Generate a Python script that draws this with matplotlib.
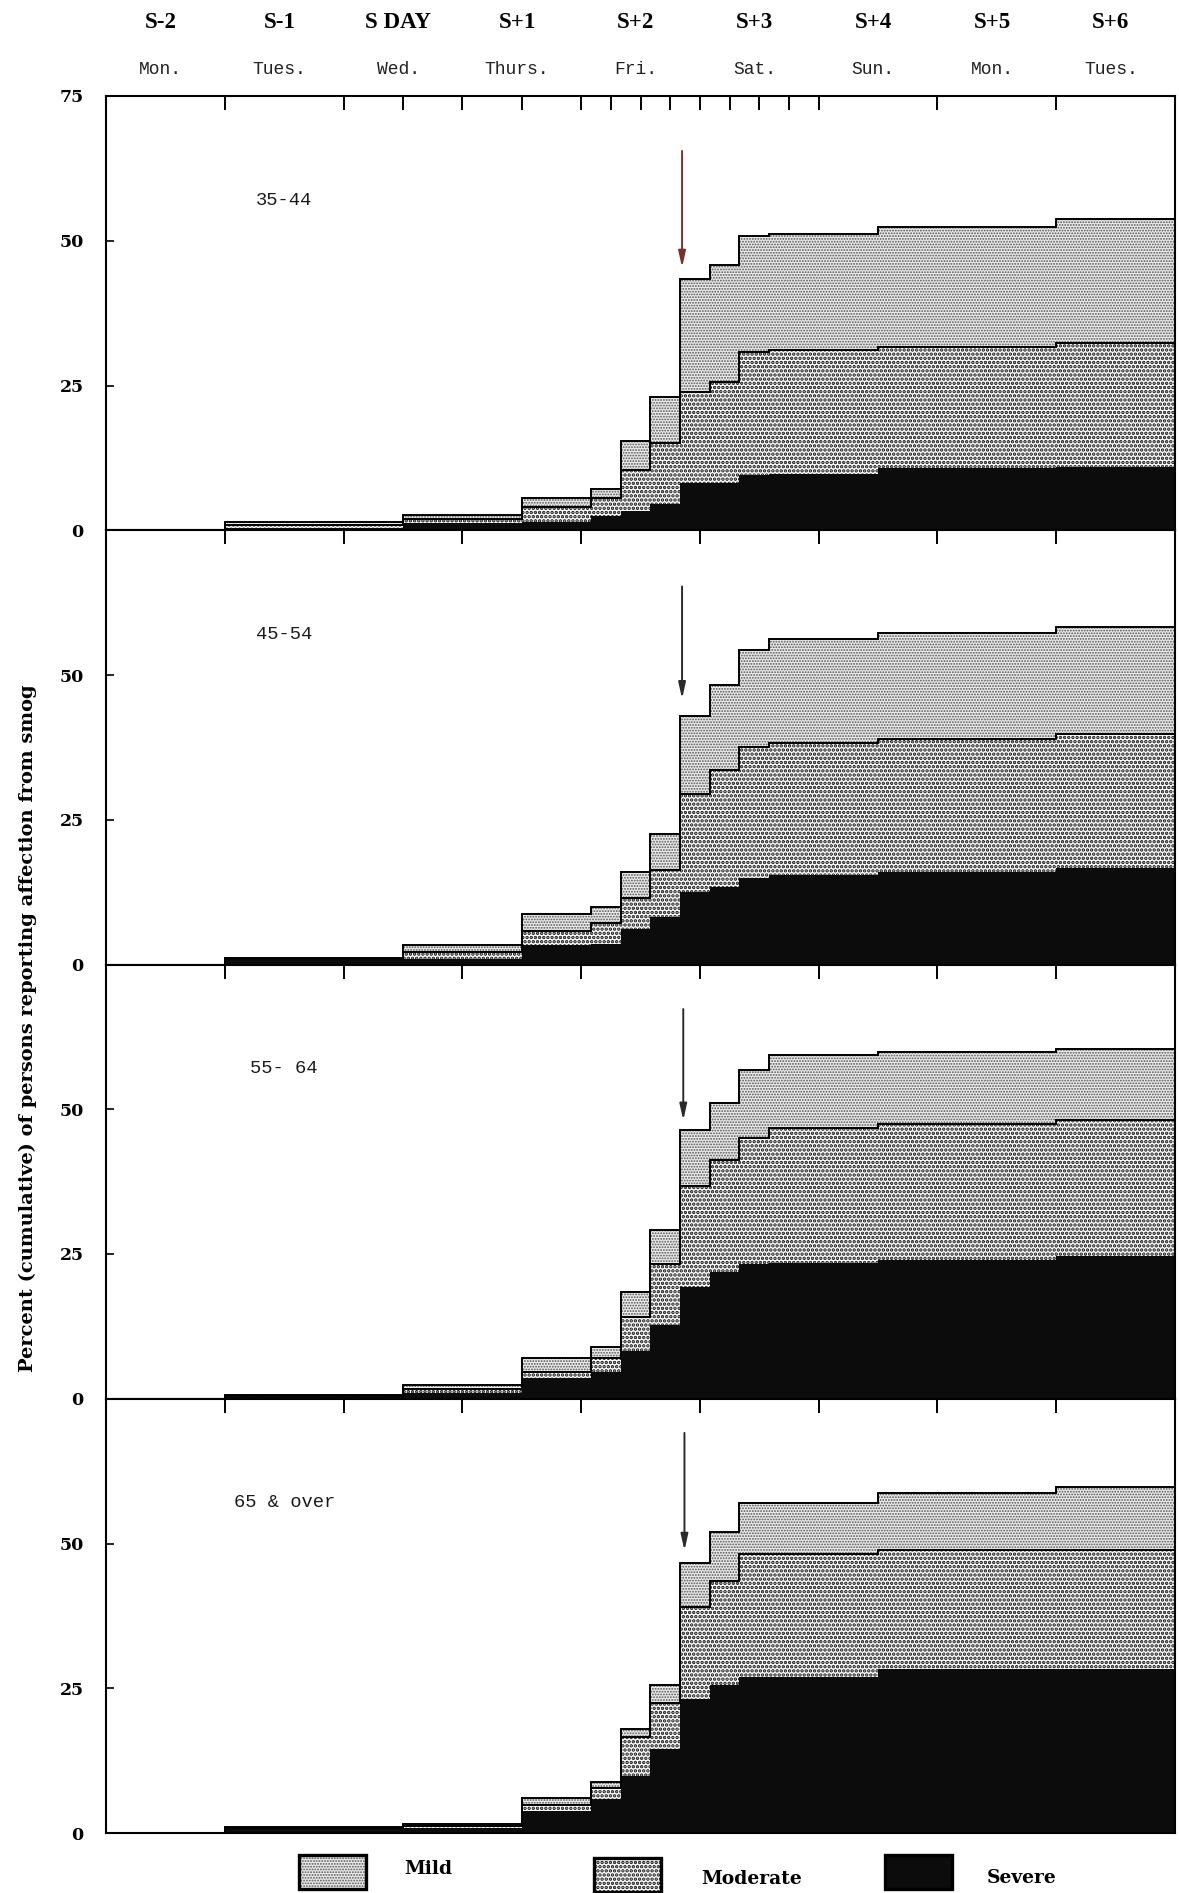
import numpy as np
import matplotlib
matplotlib.use("Agg")
import matplotlib.pyplot as plt
from matplotlib import transforms
from matplotlib.patches import Rectangle

# time axis: days counted from Monday 00:00 (S-2)
edges = [0, 1, 2.5, 3.5, 4.083, 4.333, 4.583, 4.833, 5.083, 5.333, 5.583, 6.5, 8, 9]
day_names = ["Mon.", "Tues.", "Wed.", "Thurs.", "Fri.", "Sat.", "Sun.", "Mon.", "Tues."]
smog_days = ["S-2", "S-1", "S DAY", "S+1", "S+2", "S+3", "S+4", "S+5", "S+6"]
top_ticks = [1, 2, 2.5, 3, 3.5, 4, 4.25, 4.5, 4.75, 5, 5.25, 5.5, 5.75, 6, 7, 8]
day_ticks = [1, 2, 3, 4, 5, 6, 7, 8]

age_groups = ["35-44", "45-54", "55- 64", "65 & over"]

# percent of persons per severity (layer thickness), one value per interval
severe_35 = [0, 0.4, 1.3, 1.5, 2.5, 3.3, 4.6, 8.1, 8.1, 9.5, 9.8, 10.7, 11.0]
moderate_35 = [0, 0.5, 0.7, 2.6, 3.0, 7.1, 10.4, 15.8, 17.5, 21.3, 21.4, 21.0, 21.4]
mild_35 = [0, 0.5, 0.7, 1.4, 1.7, 5.1, 8.0, 19.5, 20.2, 20.0, 20.0, 20.6, 21.3]

severe_45 = [0, 0.8, 1.0, 3.3, 3.5, 6.2, 8.2, 12.6, 13.4, 14.9, 15.4, 16.0, 16.6]
moderate_45 = [0, 0.2, 1.2, 2.5, 3.6, 5.2, 8.1, 16.9, 20.2, 22.7, 22.9, 23.0, 23.2]
mild_45 = [0, 0.1, 1.1, 3.0, 2.9, 4.6, 6.2, 13.4, 14.6, 16.7, 18.0, 18.3, 18.5]

severe_55 = [0, 0.3, 1.0, 3.6, 4.7, 8.2, 12.7, 19.3, 21.9, 23.3, 23.5, 23.9, 24.6]
moderate_55 = [0, 0.2, 0.7, 1.1, 2.3, 6.0, 10.6, 17.5, 19.3, 21.8, 23.2, 23.5, 23.5]
mild_55 = [0, 0.2, 0.7, 2.4, 2.0, 4.3, 5.8, 9.6, 9.9, 11.6, 12.6, 12.5, 12.3]

severe_65 = [0, 0.8, 0.8, 3.8, 5.8, 9.9, 14.5, 23.2, 25.5, 27.0, 27.0, 28.3, 28.3]
moderate_65 = [0, 0.1, 0.4, 1.1, 1.9, 6.6, 8.0, 15.9, 18.0, 21.2, 21.2, 20.5, 20.5]
mild_65 = [0, 0.1, 0.4, 1.2, 1.1, 1.5, 3.0, 7.6, 8.4, 8.8, 8.8, 9.9, 11.0]

severe_all = [severe_35, severe_45, severe_55, severe_65]
moderate_all = [moderate_35, moderate_45, moderate_55, moderate_65]
mild_all = [mild_35, mild_45, mild_55, mild_65]

# arrow marking the smog peak (day, from %, to %)
arrow_day = [4.85, 4.85, 4.86, 4.87]
arrow_from = [65.5, 65.3, 67.3, 69.1]
arrow_to = [45.4, 45.9, 48.1, 48.8]
arrow_colors = ["#7b2e2e", "#2a2a2a", "#2a2a2a", "#2a2a2a"]

MILD_FACE, MILD_DOT, MILD_HATCH, MILD_LW = "#eaeaea", "#555555", "......", 0.9
MOD_FACE, MOD_DOT, MOD_HATCH, MOD_LW = "#fbfbfb", "#151515", "....", 1.7
SEVERE = "#0c0c0c"

W, H = 1179, 1893
fig = plt.figure(figsize=(W / 100, H / 100), dpi=100)
left, right = 106 / W, 1175 / W
top, bottom = 1 - 96 / H, 1 - 1833 / H
ph = (top - bottom) / 4

serif_bold = dict(family="DejaVu Serif", weight="bold")


def set_hatch_lw(artist, lw):
    if hasattr(artist, "set_hatch_linewidth"):
        artist.set_hatch_linewidth(lw)


def hatched(ax, upper, lower, face, dot, hatch, lw):
    with plt.rc_context({"hatch.linewidth": lw}):
        p = ax.stairs(upper, edges, baseline=lower, fill=True, facecolor=face,
                      edgecolor=dot, linewidth=0, hatch=hatch)
    set_hatch_lw(p, lw)
    return p


axes = []
for i in range(4):
    ax = fig.add_axes([left, top - (i + 1) * ph, right - left, ph])
    axes.append(ax)
    sev = np.array(severe_all[i])
    sm = sev + np.array(moderate_all[i])
    tot = sm + np.array(mild_all[i])

    ax.stairs(sev, edges, baseline=0, fill=True, color=SEVERE, linewidth=0)
    hatched(ax, sm, sev, MOD_FACE, MOD_DOT, MOD_HATCH, MOD_LW)
    hatched(ax, tot, sm, MILD_FACE, MILD_DOT, MILD_HATCH, MILD_LW)
    ax.stairs(sm, edges, baseline=None, color="black", linewidth=1.4)
    ax.stairs(tot, edges, baseline=None, color="black", linewidth=1.4)

    ax.annotate("", xy=(arrow_day[i], arrow_to[i]), xytext=(arrow_day[i], arrow_from[i]),
                arrowprops=dict(arrowstyle="-|>,head_length=0.8,head_width=0.18",
                                color=arrow_colors[i], lw=1.4, mutation_scale=12,
                                shrinkA=0, shrinkB=0))

    ax.text(1.5, 57, age_groups[i], family="Liberation Mono", fontsize=13.5,
            ha="center", va="center", color="#1a1a1a")

    ax.set_xlim(0, 9)
    ax.set_ylim(0, 75)
    for s in ax.spines.values():
        s.set_linewidth(1.5)
    ax.set_yticks([0, 25, 50, 75] if i == 0 else [0, 25, 50])
    ax.set_xticks(top_ticks if i == 0 else day_ticks)
    ax.tick_params(axis="x", top=True, bottom=False, direction="in", length=10,
                   width=1.4, labeltop=False, labelbottom=False)
    ax.tick_params(axis="y", direction="in", length=6, width=1.2, pad=16)
    for lab in ax.get_yticklabels():
        lab.set_fontfamily("DejaVu Serif")
        lab.set_fontweight("bold")
        lab.set_fontsize(12.5)

# header: smog-day labels and weekday names
hdr = transforms.blended_transform_factory(axes[0].transData, fig.transFigure)
for d in range(9):
    axes[0].text(d + 0.46, 1 - 22 / H, smog_days[d], transform=hdr, ha="center",
                 va="center", family="Liberation Serif", weight="bold", fontsize=16.5)
    axes[0].text(d + 0.46, 1 - 70 / H, day_names[d], transform=hdr, ha="center",
                 va="center", family="Liberation Mono", fontsize=13, color="#222222")

fig.text(0.024, 0.457, "Percent (cumulative) of persons reporting affection from smog",
         rotation=90, ha="center", va="center", fontsize=14, **serif_bold)

# legend drawn by hand, in figure pixels
legend = [("Mild", MILD_FACE, MILD_DOT, MILD_HATCH, MILD_LW, 299, 1855, 404, 1869),
          ("Moderate", MOD_FACE, MOD_DOT, MOD_HATCH, MOD_LW, 594, 1858, 701, 1879),
          ("Severe", SEVERE, SEVERE, None, 1.0, 885, 1855, 987, 1878)]
for name, face, dot, hatch, hlw, bx, by, tx, ty in legend:
    bw, bh = 67 / W, 34 / H
    x0, y0 = bx / W, 1 - by / H - bh
    with plt.rc_context({"hatch.linewidth": hlw}):
        box = Rectangle((x0, y0), bw, bh, transform=fig.transFigure,
                        facecolor=face, edgecolor=dot, linewidth=0, hatch=hatch)
    set_hatch_lw(box, hlw)
    fig.add_artist(box)
    fig.add_artist(Rectangle((x0, y0), bw, bh, transform=fig.transFigure,
                             fill=False, edgecolor="black", linewidth=2.4))
    fig.text(tx / W, 1 - ty / H, name, ha="left", va="center", fontsize=13.5, **serif_bold)

fig.savefig("out.png", dpi=100)
